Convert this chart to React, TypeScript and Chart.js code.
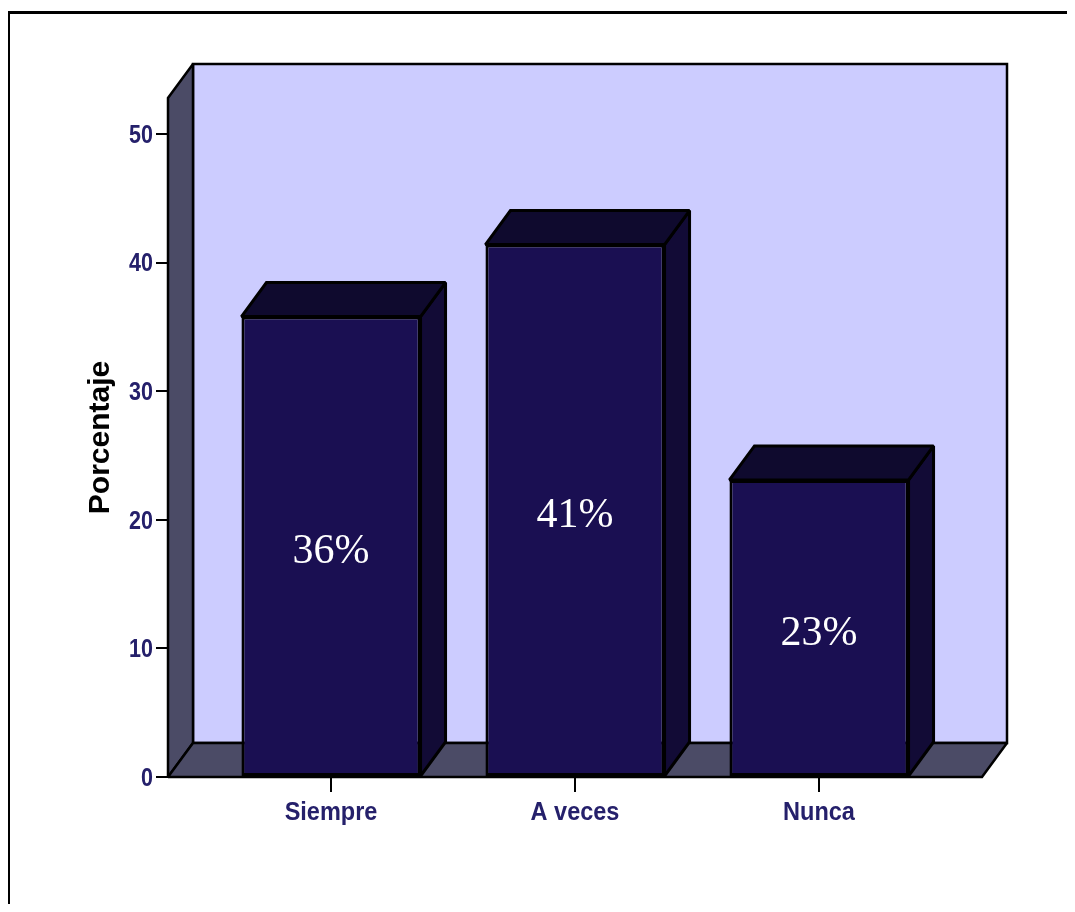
import React, { useEffect, useRef } from "react";
import { Chart, registerables } from "chart.js";

Chart.register(...registerables);

const categories: string[] = ["Siempre", "A veces", "Nunca"];
const percentages: number[] = [35.8, 41.4, 23.1];
const yTickValues: number[] = [0, 10, 20, 30, 40, 50];
const yAxisTitle = "Porcentaje";

const CANVAS_W = 1059;
const CANVAS_H = 896;
const DX = 25;
const DY = 34;

const LABEL_FONT = 'bold 25px "Liberation Sans", Arial, sans-serif';
const LABEL_COLOR = "#25206b";

function poly(ctx: CanvasRenderingContext2D, pts: number[][], fill: string, lw: number) {
  ctx.beginPath();
  ctx.moveTo(pts[0][0], pts[0][1]);
  for (let i = 1; i < pts.length; i++) ctx.lineTo(pts[i][0], pts[i][1]);
  ctx.closePath();
  ctx.fillStyle = fill;
  ctx.fill();
  ctx.lineWidth = lw;
  ctx.strokeStyle = "#000";
  ctx.lineJoin = "miter";
  ctx.miterLimit = 2;
  ctx.stroke();
}

function scaledText(ctx: CanvasRenderingContext2D, text: string, x: number, y: number, sx: number) {
  ctx.save();
  ctx.scale(sx, 1);
  ctx.fillText(text, x / sx, y);
  ctx.restore();
}

const threeD = {
  id: "threeD",
  beforeDatasetsDraw(chart: any) {
    const { ctx, chartArea } = chart;
    const { left, right, top, bottom } = chartArea;
    ctx.save();
    // back wall
    poly(ctx, [[left + DX, top - DY], [right + DX, top - DY], [right + DX, bottom - DY], [left + DX, bottom - DY]], "#ccccff", 2.5);
    // left wall
    poly(ctx, [[left, bottom], [left, top], [left + DX, top - DY], [left + DX, bottom - DY]], "#4b4b66", 2.5);
    // floor
    poly(ctx, [[left, bottom], [left + DX, bottom - DY], [right + DX, bottom - DY], [right, bottom]], "#4b4b66", 2.5);
    // bar side and top faces
    const meta = chart.getDatasetMeta(0);
    meta.data.forEach((el: any) => {
      const { x, y, base, width } = el.getProps(["x", "y", "base", "width"], true);
      const xl = x - width / 2;
      const xr = x + width / 2;
      poly(ctx, [[xr, y], [xr + DX, y - DY], [xr + DX, base - DY], [xr, base]], "#120b36", 3);
      poly(ctx, [[xl, y], [xl + DX, y - DY], [xr + DX, y - DY], [xr, y]], "#0f0a2e", 3);
    });
    ctx.restore();
  },
  afterDatasetsDraw(chart: any) {
    const { ctx } = chart;
    const meta = chart.getDatasetMeta(0);
    ctx.save();
    ctx.fillStyle = "#ffffff";
    ctx.font = '42px "Liberation Serif", "DejaVu Serif", serif';
    ctx.textAlign = "center";
    ctx.textBaseline = "middle";
    meta.data.forEach((el: any, i: number) => {
      const { x, y, base } = el.getProps(["x", "y", "base"], true);
      ctx.fillText(Math.round(percentages[i]) + "%", x, (y + base) / 2 + 6);
    });
    ctx.restore();
  },
  afterDraw(chart: any) {
    const { ctx, width, height } = chart;
    const xs = chart.scales.x;
    const ys = chart.scales.y;
    ctx.save();
    ctx.fillStyle = LABEL_COLOR;
    ctx.font = LABEL_FONT;
    // y tick labels
    ctx.textAlign = "right";
    ctx.textBaseline = "middle";
    yTickValues.forEach((v) => {
      scaledText(ctx, String(v), chart.chartArea.left - 15, ys.getPixelForValue(v) + 2, 0.86);
    });
    // x tick labels
    ctx.textAlign = "center";
    ctx.textBaseline = "alphabetic";
    categories.forEach((c, i) => {
      scaledText(ctx, c, xs.getPixelForValue(i), chart.chartArea.bottom + 43, 0.94);
    });
    // outer frame
    ctx.fillStyle = "#000";
    ctx.fillRect(-1, 3, 3, height + 5);
    ctx.fillRect(-1, 3, width + 5, 3);
    ctx.restore();
  },
};

export default function App() {
  const ref = useRef<HTMLCanvasElement>(null);

  useEffect(() => {
    if (!ref.current) return;
    const chart = new Chart(ref.current, {
      type: "bar",
      data: {
        datasets: [
          {
            data: percentages.map((v, i) => ({ x: i, y: v })),
            backgroundColor: "#1a0f52",
            borderColor: "#000000",
            borderWidth: 3,
            borderSkipped: false,
            barPercentage: 0.734,
            categoryPercentage: 1,
          },
        ],
      },
      options: {
        responsive: false,
        animation: false,
        devicePixelRatio: 1,
        layout: { padding: { top: 90, right: 85, left: 0, bottom: 0 } },
        plugins: { legend: { display: false }, tooltip: { enabled: false } },
        scales: {
          x: {
            type: "linear",
            min: -0.668,
            max: 2.668,
            offset: false,
            afterBuildTicks: (axis: any) => {
              axis.ticks = categories.map((_, i) => ({ value: i }));
            },
            afterFit: (scale: any) => {
              scale.height = CANVAS_H - 769;
            },
            grid: {
              display: true,
              offset: false,
              drawOnChartArea: false,
              drawTicks: true,
              tickLength: 15,
              color: "#000",
              lineWidth: 2,
            },
            border: { display: false },
            ticks: { display: false },
          },
          y: {
            min: 0,
            max: 52.8,
            afterBuildTicks: (axis: any) => {
              axis.ticks = yTickValues.map((v) => ({ value: v }));
            },
            afterFit: (scale: any) => {
              scale.width = 160;
            },
            grid: {
              display: true,
              drawOnChartArea: false,
              drawTicks: true,
              tickLength: 12,
              color: "#000",
              lineWidth: 2,
            },
            border: { display: false },
            ticks: { display: false },
            title: {
              display: true,
              text: yAxisTitle,
              color: "#000",
              padding: { top: 75, bottom: 0 },
              font: { family: '"Liberation Sans", Arial, sans-serif', size: 30, weight: "bold" },
            },
          },
        },
      },
      plugins: [threeD],
    });
    return () => chart.destroy();
  }, []);

  return (
    <div style={{ background: "#fff" }}>
      <canvas ref={ref} width={CANVAS_W} height={CANVAS_H} style={{ display: "block", width: CANVAS_W, height: CANVAS_H }} />
    </div>
  );
}
